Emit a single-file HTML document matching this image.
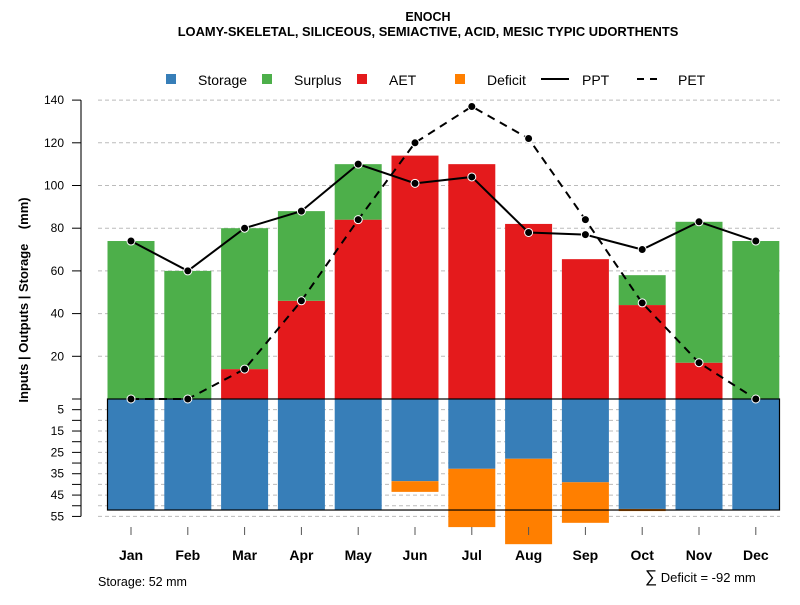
<!DOCTYPE html>
<html><head><meta charset="utf-8"><style>
body{margin:0;background:#fff;}
svg text{font-family:"Liberation Sans",Arial,sans-serif;fill:#000;}
</style></head><body>
<svg id="chart" width="800" height="600" xmlns="http://www.w3.org/2000/svg">
<text x="428" y="21" font-size="12.5" font-weight="bold" text-anchor="middle">ENOCH</text>
<text x="428" y="36" font-size="12.9" font-weight="bold" text-anchor="middle">LOAMY-SKELETAL, SILICEOUS, SEMIACTIVE, ACID, MESIC TYPIC UDORTHENTS</text>
<g id="legend">
<rect x="166" y="74" width="10" height="10" fill="#377eb8"/>
<text x="198" y="85" font-size="14">Storage</text>
<rect x="262" y="74" width="10" height="10" fill="#4daf4a"/>
<text x="294" y="85" font-size="14">Surplus</text>
<rect x="357" y="74" width="10" height="10" fill="#e41a1c"/>
<text x="389" y="85" font-size="14">AET</text>
<rect x="455" y="74" width="10" height="10" fill="#ff7f00"/>
<text x="487" y="85" font-size="14">Deficit</text>
<line x1="541" y1="79" x2="569" y2="79" stroke="#000" stroke-width="2"/>
<text x="582" y="85" font-size="14">PPT</text>
<line x1="637" y1="79" x2="663" y2="79" stroke="#000" stroke-width="2" stroke-dasharray="7,6"/>
<text x="678" y="85" font-size="14">PET</text>
</g>
<text transform="translate(28,300) rotate(-90)" font-size="13" font-weight="bold" text-anchor="middle" style="white-space:pre">Inputs | Outputs | Storage    (mm)</text>
<text x="98" y="586" font-size="12.5">Storage: 52 mm</text>
<text x="645" y="582" font-size="13"><tspan font-size="17">∑</tspan> Deficit = -92 mm</text>
<g id="grid"></g><g id="bars"></g><g id="axes"></g><g id="lines"></g>
</svg>
<script>
const months=["Jan","Feb","Mar","Apr","May","Jun","Jul","Aug","Sep","Oct","Nov","Dec"];
const aet=[0,0,14,46,84,114,110,82,65.5,44,17,0];
const surplus=[74,60,66,42,26,0,0,0,0,14,66,74];
const storage=[52,52,52,52,52,38.5,32.7,28,39,51.5,52,52];
const deficit=[0,0,0,0,0,5,27.3,40,19,1,0,0];
const ppt=[74,60,80,88,110,101,104,78,77,70,83,74];
const pet=[0,0,14,46,84,120,137,122,84,45,17,0];
const upperTicks=[20,40,60,80,100,120,140];
const lowerTicks=[5,15,25,35,45,55];
const soilStorage=52;
const NS="http://www.w3.org/2000/svg";
const y0=399,k=2.135;
const yU=v=>y0-v*k, yL=v=>y0+v*k;
const xC=i=>131+i*56.8, bw=47;
function mk(tag,attrs,parent){const e=document.createElementNS(NS,tag);for(const a in attrs)e.setAttribute(a,attrs[a]);document.getElementById(parent).appendChild(e);return e;}
upperTicks.forEach(t=>{const l=mk('line',{x1:98,x2:780,y1:yU(t),y2:yU(t),stroke:'#bbb','stroke-dasharray':'4,3'},'grid');

});
for(let t=5;t<=55;t+=5){const l=mk('line',{x1:98,x2:780,y1:yL(t),y2:yL(t),stroke:'#bbb','stroke-dasharray':'4,3'},'grid');

}
months.forEach((m,i)=>{const x=xC(i)-bw/2;
let r=mk('rect',{x:x,y:yU(aet[i]),width:bw,height:aet[i]*k,fill:'#e41a1c'},'bars');


r=mk('rect',{x:x,y:yU(aet[i]+surplus[i]),width:bw,height:surplus[i]*k,fill:'#4daf4a'},'bars');


r=mk('rect',{x:x,y:y0,width:bw,height:storage[i]*k,fill:'#377eb8'},'bars');


r=mk('rect',{x:x,y:yL(storage[i]),width:bw,height:deficit[i]*k,fill:'#ff7f00'},'bars');


let t=mk('line',{x1:xC(i),x2:xC(i),y1:527,y2:535,stroke:'#555'},'axes');


let lb=mk('text',{x:xC(i),y:560,'font-size':14,'font-weight':'bold','text-anchor':'middle'},'axes');lb.textContent=m;

});
let box=mk('rect',{x:107.5,y:y0,width:672,height:soilStorage*k,fill:'none',stroke:'#000','stroke-width':1.2},'axes');


let ax=mk('line',{x1:81,x2:81,y1:yU(140),y2:yL(55),stroke:'#777','stroke-width':2},'axes');


upperTicks.forEach(t=>{let l=mk('line',{x1:72,x2:81,y1:yU(t),y2:yU(t),stroke:'#000'},'axes');


let tx=mk('text',{x:64,y:yU(t)+4,'font-size':12,'text-anchor':'end'},'axes');tx.textContent=t;

});
for(let t=0;t<=50;t+=10){let l=mk('line',{x1:72,x2:81,y1:yL(t),y2:yL(t),stroke:'#000'},'axes');

}
lowerTicks.forEach(t=>{let l=mk('line',{x1:72,x2:81,y1:yL(t),y2:yL(t),stroke:'#000'},'axes');


let tx=mk('text',{x:64,y:yL(t)+4,'font-size':12,'text-anchor':'end'},'axes');tx.textContent=t;

});
function series(vals,name,dash){const pts=vals.map((v,i)=>xC(i)+','+yU(v)).join(' ');
const a={points:pts,fill:'none',stroke:'#000','stroke-width':2};if(dash)a['stroke-dasharray']=dash;
let p=mk('polyline',a,'lines');


vals.forEach((v,i)=>{let c=mk('circle',{cx:xC(i),cy:yU(v),r:4,fill:'#000',stroke:'#fff','stroke-width':1},'lines');

});}
series(pet,'pet','8,6');
series(ppt,'ppt',null);
</script>
</body></html>
